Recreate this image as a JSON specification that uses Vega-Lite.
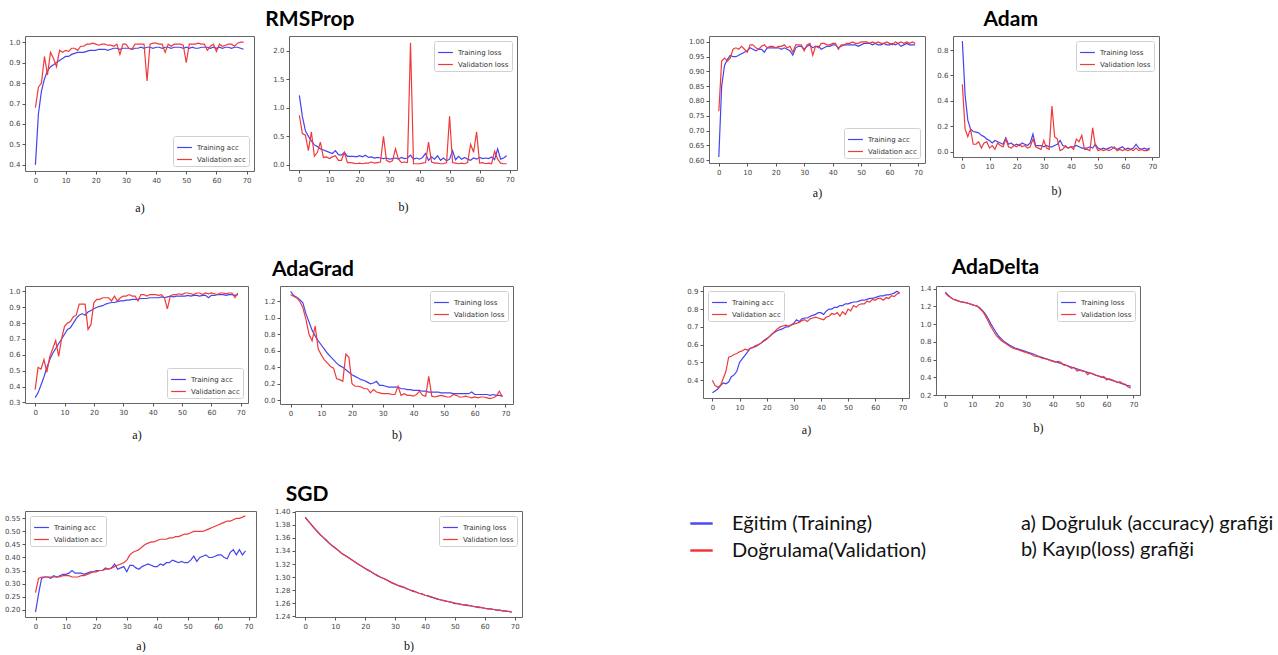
{
"$schema": "https://vega.github.io/schema/vega-lite/v6.json",
"padding": {"left": 3, "top": 8, "right": 0, "bottom": 0},
"background": "white",
"config": {
 "view": {"stroke": "#666", "strokeWidth": 1},
 "axis": {"grid": false, "domain": false, "labelFlush": false, "labelOverlap": false, "tickSize": 3, "tickColor": "#555", "labelFont": "DejaVu Sans", "labelFontSize": 7, "labelColor": "#444", "labelPadding": 2, "titleFont": "Liberation Serif", "titleFontSize": 12, "titleFontWeight": "normal", "titleColor": "#111"},
 "legend": {"labelFont": "DejaVu Sans", "labelFontSize": 7, "labelColor": "#333", "symbolType": "stroke", "symbolStrokeWidth": 1.5, "symbolSize": 220, "padding": 3, "rowPadding": 0, "offset": 5, "strokeColor": "#d0d0d0", "fillColor": "#ffffff", "cornerRadius": 2, "labelLimit": 300},
 "title": {"font": "Lato", "fontSize": 21, "fontWeight": "bold", "color": "#000", "anchor": "middle", "offset": 6},
 "line": {"strokeWidth": 1.2}
},
"datasets": {
"rmsprop": [
{"epoch":0,"train_acc":0.40,"val_acc":0.68,"train_loss":1.22,"val_loss":0.87},
{"epoch":1,"train_acc":0.65,"val_acc":0.78,"train_loss":0.85,"val_loss":0.55},
{"epoch":2,"train_acc":0.76,"val_acc":0.80,"train_loss":0.60,"val_loss":0.52},
{"epoch":3,"train_acc":0.82,"val_acc":0.93,"train_loss":0.50,"val_loss":0.25},
{"epoch":4,"train_acc":0.86,"val_acc":0.84,"train_loss":0.42,"val_loss":0.58},
{"epoch":5,"train_acc":0.88,"val_acc":0.95,"train_loss":0.35,"val_loss":0.15},
{"epoch":6,"train_acc":0.89,"val_acc":0.92,"train_loss":0.32,"val_loss":0.22},
{"epoch":7,"train_acc":0.90,"val_acc":0.88,"train_loss":0.28,"val_loss":0.40},
{"epoch":8,"train_acc":0.91,"val_acc":0.96,"train_loss":0.26,"val_loss":0.13},
{"epoch":9,"train_acc":0.92,"val_acc":0.95,"train_loss":0.24,"val_loss":0.14},
{"epoch":10,"train_acc":0.93,"val_acc":0.96,"train_loss":0.22,"val_loss":0.11},
{"epoch":11,"train_acc":0.93,"val_acc":0.955,"train_loss":0.20,"val_loss":0.14},
{"epoch":12,"train_acc":0.94,"val_acc":0.97,"train_loss":0.25,"val_loss":0.16},
{"epoch":13,"train_acc":0.945,"val_acc":0.97,"train_loss":0.18,"val_loss":0.08},
{"epoch":14,"train_acc":0.95,"val_acc":0.96,"train_loss":0.17,"val_loss":0.08},
{"epoch":15,"train_acc":0.95,"val_acc":0.98,"train_loss":0.22,"val_loss":0.22},
{"epoch":16,"train_acc":0.95,"val_acc":0.98,"train_loss":0.15,"val_loss":0.04},
{"epoch":17,"train_acc":0.955,"val_acc":0.99,"train_loss":0.15,"val_loss":0.04},
{"epoch":18,"train_acc":0.96,"val_acc":0.99,"train_loss":0.15,"val_loss":0.03},
{"epoch":19,"train_acc":0.96,"val_acc":0.995,"train_loss":0.14,"val_loss":0.02},
{"epoch":20,"train_acc":0.96,"val_acc":0.99,"train_loss":0.16,"val_loss":0.03},
{"epoch":21,"train_acc":0.965,"val_acc":0.985,"train_loss":0.14,"val_loss":0.02},
{"epoch":22,"train_acc":0.965,"val_acc":0.99,"train_loss":0.17,"val_loss":0.03},
{"epoch":23,"train_acc":0.965,"val_acc":0.99,"train_loss":0.13,"val_loss":0.03},
{"epoch":24,"train_acc":0.96,"val_acc":0.985,"train_loss":0.14,"val_loss":0.05},
{"epoch":25,"train_acc":0.965,"val_acc":0.985,"train_loss":0.12,"val_loss":0.03},
{"epoch":26,"train_acc":0.97,"val_acc":0.98,"train_loss":0.13,"val_loss":0.04},
{"epoch":27,"train_acc":0.97,"val_acc":0.99,"train_loss":0.12,"val_loss":0.05},
{"epoch":28,"train_acc":0.965,"val_acc":0.94,"train_loss":0.11,"val_loss":0.50},
{"epoch":29,"train_acc":0.97,"val_acc":0.99,"train_loss":0.12,"val_loss":0.08},
{"epoch":30,"train_acc":0.97,"val_acc":0.99,"train_loss":0.10,"val_loss":0.05},
{"epoch":31,"train_acc":0.97,"val_acc":0.97,"train_loss":0.11,"val_loss":0.07},
{"epoch":32,"train_acc":0.965,"val_acc":0.965,"train_loss":0.12,"val_loss":0.28},
{"epoch":33,"train_acc":0.97,"val_acc":0.99,"train_loss":0.10,"val_loss":0.10},
{"epoch":34,"train_acc":0.97,"val_acc":0.99,"train_loss":0.13,"val_loss":0.04},
{"epoch":35,"train_acc":0.975,"val_acc":0.99,"train_loss":0.11,"val_loss":0.05},
{"epoch":36,"train_acc":0.97,"val_acc":0.99,"train_loss":0.12,"val_loss":0.04},
{"epoch":37,"train_acc":0.975,"val_acc":0.81,"train_loss":0.17,"val_loss":2.14},
{"epoch":38,"train_acc":0.975,"val_acc":0.99,"train_loss":0.10,"val_loss":0.02},
{"epoch":39,"train_acc":0.97,"val_acc":0.995,"train_loss":0.12,"val_loss":0.02},
{"epoch":40,"train_acc":0.975,"val_acc":0.995,"train_loss":0.10,"val_loss":0.02},
{"epoch":41,"train_acc":0.975,"val_acc":0.99,"train_loss":0.13,"val_loss":0.03},
{"epoch":42,"train_acc":0.97,"val_acc":0.99,"train_loss":0.20,"val_loss":0.04},
{"epoch":43,"train_acc":0.975,"val_acc":0.95,"train_loss":0.08,"val_loss":0.40},
{"epoch":44,"train_acc":0.975,"val_acc":0.99,"train_loss":0.14,"val_loss":0.05},
{"epoch":45,"train_acc":0.97,"val_acc":0.98,"train_loss":0.10,"val_loss":0.03},
{"epoch":46,"train_acc":0.975,"val_acc":0.99,"train_loss":0.16,"val_loss":0.03},
{"epoch":47,"train_acc":0.975,"val_acc":0.99,"train_loss":0.08,"val_loss":0.02},
{"epoch":48,"train_acc":0.975,"val_acc":0.99,"train_loss":0.12,"val_loss":0.02},
{"epoch":49,"train_acc":0.97,"val_acc":0.985,"train_loss":0.07,"val_loss":0.04},
{"epoch":50,"train_acc":0.975,"val_acc":0.90,"train_loss":0.10,"val_loss":0.85},
{"epoch":51,"train_acc":0.97,"val_acc":0.99,"train_loss":0.25,"val_loss":0.04},
{"epoch":52,"train_acc":0.975,"val_acc":0.99,"train_loss":0.09,"val_loss":0.03},
{"epoch":53,"train_acc":0.97,"val_acc":0.99,"train_loss":0.15,"val_loss":0.02},
{"epoch":54,"train_acc":0.97,"val_acc":0.995,"train_loss":0.10,"val_loss":0.03},
{"epoch":55,"train_acc":0.975,"val_acc":0.99,"train_loss":0.13,"val_loss":0.02},
{"epoch":56,"train_acc":0.975,"val_acc":0.99,"train_loss":0.10,"val_loss":0.04},
{"epoch":57,"train_acc":0.975,"val_acc":0.96,"train_loss":0.08,"val_loss":0.36},
{"epoch":58,"train_acc":0.97,"val_acc":0.98,"train_loss":0.12,"val_loss":0.22},
{"epoch":59,"train_acc":0.975,"val_acc":0.99,"train_loss":0.10,"val_loss":0.58},
{"epoch":60,"train_acc":0.97,"val_acc":0.955,"train_loss":0.13,"val_loss":0.03},
{"epoch":61,"train_acc":0.975,"val_acc":0.99,"train_loss":0.11,"val_loss":0.04},
{"epoch":62,"train_acc":0.97,"val_acc":0.98,"train_loss":0.12,"val_loss":0.02},
{"epoch":63,"train_acc":0.975,"val_acc":0.985,"train_loss":0.11,"val_loss":0.03},
{"epoch":64,"train_acc":0.975,"val_acc":0.99,"train_loss":0.14,"val_loss":0.02},
{"epoch":65,"train_acc":0.97,"val_acc":0.99,"train_loss":0.09,"val_loss":0.24},
{"epoch":66,"train_acc":0.975,"val_acc":0.98,"train_loss":0.28,"val_loss":0.10},
{"epoch":67,"train_acc":0.975,"val_acc":0.995,"train_loss":0.10,"val_loss":0.03},
{"epoch":68,"train_acc":0.97,"val_acc":1.0,"train_loss":0.12,"val_loss":0.02},
{"epoch":69,"train_acc":0.965,"val_acc":1.0,"train_loss":0.16,"val_loss":0.02}
],
"adam": [
{"epoch":0,"train_acc":0.61,"val_acc":0.765,"train_loss":0.87,"val_loss":0.53},
{"epoch":1,"train_acc":0.85,"val_acc":0.935,"train_loss":0.45,"val_loss":0.18},
{"epoch":2,"train_acc":0.92,"val_acc":0.945,"train_loss":0.25,"val_loss":0.12},
{"epoch":3,"train_acc":0.94,"val_acc":0.935,"train_loss":0.18,"val_loss":0.18},
{"epoch":4,"train_acc":0.955,"val_acc":0.945,"train_loss":0.16,"val_loss":0.06},
{"epoch":5,"train_acc":0.95,"val_acc":0.975,"train_loss":0.155,"val_loss":0.06},
{"epoch":6,"train_acc":0.95,"val_acc":0.98,"train_loss":0.15,"val_loss":0.08},
{"epoch":7,"train_acc":0.955,"val_acc":0.975,"train_loss":0.13,"val_loss":0.03},
{"epoch":8,"train_acc":0.96,"val_acc":0.985,"train_loss":0.12,"val_loss":0.07},
{"epoch":9,"train_acc":0.965,"val_acc":0.975,"train_loss":0.10,"val_loss":0.08},
{"epoch":10,"train_acc":0.97,"val_acc":0.965,"train_loss":0.09,"val_loss":0.03},
{"epoch":11,"train_acc":0.98,"val_acc":0.99,"train_loss":0.07,"val_loss":0.05},
{"epoch":12,"train_acc":0.975,"val_acc":0.99,"train_loss":0.09,"val_loss":0.02},
{"epoch":13,"train_acc":0.97,"val_acc":0.98,"train_loss":0.08,"val_loss":0.07},
{"epoch":14,"train_acc":0.975,"val_acc":0.975,"train_loss":0.07,"val_loss":0.05},
{"epoch":15,"train_acc":0.975,"val_acc":0.985,"train_loss":0.06,"val_loss":0.04},
{"epoch":16,"train_acc":0.965,"val_acc":0.99,"train_loss":0.11,"val_loss":0.10},
{"epoch":17,"train_acc":0.98,"val_acc":0.98,"train_loss":0.06,"val_loss":0.04},
{"epoch":18,"train_acc":0.98,"val_acc":0.985,"train_loss":0.07,"val_loss":0.03},
{"epoch":19,"train_acc":0.98,"val_acc":0.985,"train_loss":0.05,"val_loss":0.05},
{"epoch":20,"train_acc":0.98,"val_acc":0.98,"train_loss":0.06,"val_loss":0.04},
{"epoch":21,"train_acc":0.98,"val_acc":0.985,"train_loss":0.05,"val_loss":0.06},
{"epoch":22,"train_acc":0.975,"val_acc":0.985,"train_loss":0.07,"val_loss":0.04},
{"epoch":23,"train_acc":0.98,"val_acc":0.99,"train_loss":0.06,"val_loss":0.05},
{"epoch":24,"train_acc":0.975,"val_acc":0.98,"train_loss":0.05,"val_loss":0.03},
{"epoch":25,"train_acc":0.97,"val_acc":0.985,"train_loss":0.07,"val_loss":0.04},
{"epoch":26,"train_acc":0.955,"val_acc":0.965,"train_loss":0.14,"val_loss":0.10},
{"epoch":27,"train_acc":0.98,"val_acc":0.99,"train_loss":0.05,"val_loss":0.04},
{"epoch":28,"train_acc":0.985,"val_acc":0.99,"train_loss":0.05,"val_loss":0.03},
{"epoch":29,"train_acc":0.985,"val_acc":0.99,"train_loss":0.05,"val_loss":0.02},
{"epoch":30,"train_acc":0.975,"val_acc":0.97,"train_loss":0.04,"val_loss":0.09},
{"epoch":31,"train_acc":0.985,"val_acc":0.99,"train_loss":0.05,"val_loss":0.03},
{"epoch":32,"train_acc":0.99,"val_acc":0.995,"train_loss":0.04,"val_loss":0.02},
{"epoch":33,"train_acc":0.98,"val_acc":0.955,"train_loss":0.04,"val_loss":0.36},
{"epoch":34,"train_acc":0.985,"val_acc":0.985,"train_loss":0.05,"val_loss":0.12},
{"epoch":35,"train_acc":0.985,"val_acc":0.98,"train_loss":0.06,"val_loss":0.10},
{"epoch":36,"train_acc":0.975,"val_acc":0.995,"train_loss":0.09,"val_loss":0.01},
{"epoch":37,"train_acc":0.98,"val_acc":0.995,"train_loss":0.05,"val_loss":0.02},
{"epoch":38,"train_acc":0.985,"val_acc":0.99,"train_loss":0.04,"val_loss":0.05},
{"epoch":39,"train_acc":0.985,"val_acc":0.99,"train_loss":0.03,"val_loss":0.03},
{"epoch":40,"train_acc":0.99,"val_acc":0.995,"train_loss":0.04,"val_loss":0.04},
{"epoch":41,"train_acc":0.99,"val_acc":0.995,"train_loss":0.04,"val_loss":0.02},
{"epoch":42,"train_acc":0.98,"val_acc":0.975,"train_loss":0.05,"val_loss":0.10},
{"epoch":43,"train_acc":0.985,"val_acc":0.99,"train_loss":0.04,"val_loss":0.08},
{"epoch":44,"train_acc":0.99,"val_acc":0.99,"train_loss":0.03,"val_loss":0.13},
{"epoch":45,"train_acc":0.99,"val_acc":0.995,"train_loss":0.03,"val_loss":0.02},
{"epoch":46,"train_acc":0.99,"val_acc":0.995,"train_loss":0.03,"val_loss":0.02},
{"epoch":47,"train_acc":0.99,"val_acc":1.0,"train_loss":0.04,"val_loss":0.01},
{"epoch":48,"train_acc":0.99,"val_acc":0.995,"train_loss":0.03,"val_loss":0.19},
{"epoch":49,"train_acc":0.985,"val_acc":0.995,"train_loss":0.06,"val_loss":0.05},
{"epoch":50,"train_acc":0.99,"val_acc":1.0,"train_loss":0.03,"val_loss":0.01},
{"epoch":51,"train_acc":0.995,"val_acc":1.0,"train_loss":0.02,"val_loss":0.02},
{"epoch":52,"train_acc":0.995,"val_acc":1.0,"train_loss":0.03,"val_loss":0.01},
{"epoch":53,"train_acc":0.995,"val_acc":0.995,"train_loss":0.02,"val_loss":0.02},
{"epoch":54,"train_acc":0.99,"val_acc":1.0,"train_loss":0.03,"val_loss":0.01},
{"epoch":55,"train_acc":0.995,"val_acc":0.995,"train_loss":0.04,"val_loss":0.02},
{"epoch":56,"train_acc":0.99,"val_acc":1.0,"train_loss":0.03,"val_loss":0.04},
{"epoch":57,"train_acc":0.99,"val_acc":0.995,"train_loss":0.02,"val_loss":0.01},
{"epoch":58,"train_acc":0.995,"val_acc":0.995,"train_loss":0.03,"val_loss":0.02},
{"epoch":59,"train_acc":0.99,"val_acc":1.0,"train_loss":0.04,"val_loss":0.01},
{"epoch":60,"train_acc":0.99,"val_acc":0.995,"train_loss":0.02,"val_loss":0.02},
{"epoch":61,"train_acc":0.995,"val_acc":0.99,"train_loss":0.03,"val_loss":0.01},
{"epoch":62,"train_acc":0.99,"val_acc":1.0,"train_loss":0.02,"val_loss":0.02},
{"epoch":63,"train_acc":0.995,"val_acc":0.995,"train_loss":0.03,"val_loss":0.01},
{"epoch":64,"train_acc":0.985,"val_acc":1.0,"train_loss":0.06,"val_loss":0.03},
{"epoch":65,"train_acc":0.99,"val_acc":0.995,"train_loss":0.03,"val_loss":0.01},
{"epoch":66,"train_acc":0.995,"val_acc":1.0,"train_loss":0.02,"val_loss":0.02},
{"epoch":67,"train_acc":0.99,"val_acc":0.995,"train_loss":0.03,"val_loss":0.01},
{"epoch":68,"train_acc":0.99,"val_acc":1.0,"train_loss":0.02,"val_loss":0.01},
{"epoch":69,"train_acc":0.99,"val_acc":0.995,"train_loss":0.03,"val_loss":0.02}
],
"adagrad": [
{"epoch":0,"train_acc":0.33,"val_acc":0.38,"train_loss":1.32,"val_loss":1.28},
{"epoch":1,"train_acc":0.36,"val_acc":0.52,"train_loss":1.27,"val_loss":1.26},
{"epoch":2,"train_acc":0.41,"val_acc":0.51,"train_loss":1.25,"val_loss":1.24},
{"epoch":3,"train_acc":0.46,"val_acc":0.57,"train_loss":1.22,"val_loss":1.20},
{"epoch":4,"train_acc":0.52,"val_acc":0.49,"train_loss":1.18,"val_loss":1.12},
{"epoch":5,"train_acc":0.57,"val_acc":0.59,"train_loss":1.05,"val_loss":0.98},
{"epoch":6,"train_acc":0.61,"val_acc":0.64,"train_loss":0.95,"val_loss":0.80},
{"epoch":7,"train_acc":0.64,"val_acc":0.69,"train_loss":0.85,"val_loss":0.72},
{"epoch":8,"train_acc":0.67,"val_acc":0.59,"train_loss":0.78,"val_loss":0.90},
{"epoch":9,"train_acc":0.70,"val_acc":0.70,"train_loss":0.72,"val_loss":0.62},
{"epoch":10,"train_acc":0.73,"val_acc":0.78,"train_loss":0.67,"val_loss":0.55},
{"epoch":11,"train_acc":0.76,"val_acc":0.80,"train_loss":0.62,"val_loss":0.49},
{"epoch":12,"train_acc":0.77,"val_acc":0.81,"train_loss":0.57,"val_loss":0.45},
{"epoch":13,"train_acc":0.80,"val_acc":0.84,"train_loss":0.53,"val_loss":0.41},
{"epoch":14,"train_acc":0.83,"val_acc":0.85,"train_loss":0.49,"val_loss":0.39},
{"epoch":15,"train_acc":0.85,"val_acc":0.92,"train_loss":0.45,"val_loss":0.26},
{"epoch":16,"train_acc":0.86,"val_acc":0.92,"train_loss":0.42,"val_loss":0.25},
{"epoch":17,"train_acc":0.85,"val_acc":0.92,"train_loss":0.40,"val_loss":0.23},
{"epoch":18,"train_acc":0.87,"val_acc":0.76,"train_loss":0.37,"val_loss":0.56},
{"epoch":19,"train_acc":0.88,"val_acc":0.79,"train_loss":0.34,"val_loss":0.52},
{"epoch":20,"train_acc":0.89,"val_acc":0.93,"train_loss":0.31,"val_loss":0.20},
{"epoch":21,"train_acc":0.90,"val_acc":0.95,"train_loss":0.29,"val_loss":0.17},
{"epoch":22,"train_acc":0.905,"val_acc":0.95,"train_loss":0.27,"val_loss":0.17},
{"epoch":23,"train_acc":0.91,"val_acc":0.96,"train_loss":0.25,"val_loss":0.16},
{"epoch":24,"train_acc":0.92,"val_acc":0.96,"train_loss":0.24,"val_loss":0.14},
{"epoch":25,"train_acc":0.925,"val_acc":0.96,"train_loss":0.22,"val_loss":0.14},
{"epoch":26,"train_acc":0.93,"val_acc":0.94,"train_loss":0.20,"val_loss":0.09},
{"epoch":27,"train_acc":0.93,"val_acc":0.97,"train_loss":0.21,"val_loss":0.13},
{"epoch":28,"train_acc":0.935,"val_acc":0.94,"train_loss":0.23,"val_loss":0.10},
{"epoch":29,"train_acc":0.94,"val_acc":0.96,"train_loss":0.18,"val_loss":0.09},
{"epoch":30,"train_acc":0.94,"val_acc":0.97,"train_loss":0.18,"val_loss":0.08},
{"epoch":31,"train_acc":0.945,"val_acc":0.97,"train_loss":0.17,"val_loss":0.08},
{"epoch":32,"train_acc":0.945,"val_acc":0.98,"train_loss":0.16,"val_loss":0.08},
{"epoch":33,"train_acc":0.95,"val_acc":0.97,"train_loss":0.16,"val_loss":0.07},
{"epoch":34,"train_acc":0.95,"val_acc":0.97,"train_loss":0.16,"val_loss":0.07},
{"epoch":35,"train_acc":0.95,"val_acc":0.94,"train_loss":0.16,"val_loss":0.17},
{"epoch":36,"train_acc":0.955,"val_acc":0.98,"train_loss":0.14,"val_loss":0.06},
{"epoch":37,"train_acc":0.955,"val_acc":0.98,"train_loss":0.14,"val_loss":0.08},
{"epoch":38,"train_acc":0.955,"val_acc":0.97,"train_loss":0.13,"val_loss":0.06},
{"epoch":39,"train_acc":0.96,"val_acc":0.98,"train_loss":0.13,"val_loss":0.06},
{"epoch":40,"train_acc":0.96,"val_acc":0.98,"train_loss":0.12,"val_loss":0.05},
{"epoch":41,"train_acc":0.96,"val_acc":0.98,"train_loss":0.12,"val_loss":0.07},
{"epoch":42,"train_acc":0.96,"val_acc":0.975,"train_loss":0.12,"val_loss":0.11},
{"epoch":43,"train_acc":0.965,"val_acc":0.98,"train_loss":0.11,"val_loss":0.06},
{"epoch":44,"train_acc":0.96,"val_acc":0.96,"train_loss":0.11,"val_loss":0.05},
{"epoch":45,"train_acc":0.965,"val_acc":0.89,"train_loss":0.10,"val_loss":0.29},
{"epoch":46,"train_acc":0.97,"val_acc":0.97,"train_loss":0.10,"val_loss":0.05},
{"epoch":47,"train_acc":0.965,"val_acc":0.98,"train_loss":0.10,"val_loss":0.04},
{"epoch":48,"train_acc":0.97,"val_acc":0.98,"train_loss":0.10,"val_loss":0.05},
{"epoch":49,"train_acc":0.97,"val_acc":0.985,"train_loss":0.09,"val_loss":0.06},
{"epoch":50,"train_acc":0.97,"val_acc":0.98,"train_loss":0.09,"val_loss":0.05},
{"epoch":51,"train_acc":0.97,"val_acc":0.99,"train_loss":0.09,"val_loss":0.04},
{"epoch":52,"train_acc":0.975,"val_acc":0.99,"train_loss":0.09,"val_loss":0.04},
{"epoch":53,"train_acc":0.97,"val_acc":0.985,"train_loss":0.08,"val_loss":0.07},
{"epoch":54,"train_acc":0.975,"val_acc":0.98,"train_loss":0.08,"val_loss":0.06},
{"epoch":55,"train_acc":0.975,"val_acc":0.99,"train_loss":0.08,"val_loss":0.04},
{"epoch":56,"train_acc":0.97,"val_acc":0.99,"train_loss":0.08,"val_loss":0.04},
{"epoch":57,"train_acc":0.975,"val_acc":0.98,"train_loss":0.08,"val_loss":0.05},
{"epoch":58,"train_acc":0.975,"val_acc":0.99,"train_loss":0.08,"val_loss":0.04},
{"epoch":59,"train_acc":0.96,"val_acc":0.985,"train_loss":0.10,"val_loss":0.03},
{"epoch":60,"train_acc":0.975,"val_acc":0.99,"train_loss":0.07,"val_loss":0.04},
{"epoch":61,"train_acc":0.975,"val_acc":0.985,"train_loss":0.07,"val_loss":0.03},
{"epoch":62,"train_acc":0.98,"val_acc":0.98,"train_loss":0.07,"val_loss":0.04},
{"epoch":63,"train_acc":0.98,"val_acc":0.99,"train_loss":0.07,"val_loss":0.04},
{"epoch":64,"train_acc":0.98,"val_acc":0.99,"train_loss":0.07,"val_loss":0.03},
{"epoch":65,"train_acc":0.975,"val_acc":0.985,"train_loss":0.06,"val_loss":0.02},
{"epoch":66,"train_acc":0.98,"val_acc":0.99,"train_loss":0.07,"val_loss":0.03},
{"epoch":67,"train_acc":0.98,"val_acc":0.99,"train_loss":0.06,"val_loss":0.05},
{"epoch":68,"train_acc":0.975,"val_acc":0.96,"train_loss":0.06,"val_loss":0.11},
{"epoch":69,"train_acc":0.98,"val_acc":0.99,"train_loss":0.05,"val_loss":0.04}
],
"adadelta": [
{"epoch":0,"train_acc":0.33,"val_acc":0.40,"train_loss":1.36,"val_loss":1.35},
{"epoch":1,"train_acc":0.34,"val_acc":0.37,"train_loss":1.33,"val_loss":1.32},
{"epoch":2,"train_acc":0.35,"val_acc":0.36,"train_loss":1.30,"val_loss":1.30},
{"epoch":3,"train_acc":0.37,"val_acc":0.37,"train_loss":1.28,"val_loss":1.28},
{"epoch":4,"train_acc":0.385,"val_acc":0.41,"train_loss":1.27,"val_loss":1.27},
{"epoch":5,"train_acc":0.38,"val_acc":0.45,"train_loss":1.26,"val_loss":1.26},
{"epoch":6,"train_acc":0.39,"val_acc":0.53,"train_loss":1.25,"val_loss":1.25},
{"epoch":7,"train_acc":0.42,"val_acc":0.535,"train_loss":1.245,"val_loss":1.245},
{"epoch":8,"train_acc":0.43,"val_acc":0.545,"train_loss":1.24,"val_loss":1.24},
{"epoch":9,"train_acc":0.45,"val_acc":0.55,"train_loss":1.23,"val_loss":1.23},
{"epoch":10,"train_acc":0.50,"val_acc":0.56,"train_loss":1.22,"val_loss":1.22},
{"epoch":11,"train_acc":0.52,"val_acc":0.565,"train_loss":1.21,"val_loss":1.21},
{"epoch":12,"train_acc":0.54,"val_acc":0.575,"train_loss":1.20,"val_loss":1.20},
{"epoch":13,"train_acc":0.56,"val_acc":0.57,"train_loss":1.18,"val_loss":1.17},
{"epoch":14,"train_acc":0.58,"val_acc":0.58,"train_loss":1.15,"val_loss":1.14},
{"epoch":15,"train_acc":0.585,"val_acc":0.585,"train_loss":1.11,"val_loss":1.09},
{"epoch":16,"train_acc":0.59,"val_acc":0.595,"train_loss":1.06,"val_loss":1.03},
{"epoch":17,"train_acc":0.60,"val_acc":0.60,"train_loss":1.00,"val_loss":0.97},
{"epoch":18,"train_acc":0.61,"val_acc":0.61,"train_loss":0.95,"val_loss":0.92},
{"epoch":19,"train_acc":0.62,"val_acc":0.625,"train_loss":0.90,"val_loss":0.87},
{"epoch":20,"train_acc":0.63,"val_acc":0.635,"train_loss":0.86,"val_loss":0.84},
{"epoch":21,"train_acc":0.645,"val_acc":0.645,"train_loss":0.83,"val_loss":0.81},
{"epoch":22,"train_acc":0.66,"val_acc":0.66,"train_loss":0.80,"val_loss":0.79},
{"epoch":23,"train_acc":0.67,"val_acc":0.675,"train_loss":0.78,"val_loss":0.77},
{"epoch":24,"train_acc":0.68,"val_acc":0.69,"train_loss":0.76,"val_loss":0.75},
{"epoch":25,"train_acc":0.685,"val_acc":0.70,"train_loss":0.745,"val_loss":0.73},
{"epoch":26,"train_acc":0.69,"val_acc":0.705,"train_loss":0.73,"val_loss":0.72},
{"epoch":27,"train_acc":0.70,"val_acc":0.71,"train_loss":0.72,"val_loss":0.71},
{"epoch":28,"train_acc":0.70,"val_acc":0.705,"train_loss":0.71,"val_loss":0.70},
{"epoch":29,"train_acc":0.71,"val_acc":0.71,"train_loss":0.70,"val_loss":0.69},
{"epoch":30,"train_acc":0.72,"val_acc":0.715,"train_loss":0.69,"val_loss":0.68},
{"epoch":31,"train_acc":0.74,"val_acc":0.72,"train_loss":0.68,"val_loss":0.67},
{"epoch":32,"train_acc":0.73,"val_acc":0.725,"train_loss":0.67,"val_loss":0.66},
{"epoch":33,"train_acc":0.745,"val_acc":0.735,"train_loss":0.66,"val_loss":0.64},
{"epoch":34,"train_acc":0.75,"val_acc":0.74,"train_loss":0.645,"val_loss":0.635},
{"epoch":35,"train_acc":0.75,"val_acc":0.73,"train_loss":0.635,"val_loss":0.63},
{"epoch":36,"train_acc":0.76,"val_acc":0.745,"train_loss":0.625,"val_loss":0.615},
{"epoch":37,"train_acc":0.765,"val_acc":0.75,"train_loss":0.615,"val_loss":0.61},
{"epoch":38,"train_acc":0.77,"val_acc":0.755,"train_loss":0.605,"val_loss":0.60},
{"epoch":39,"train_acc":0.78,"val_acc":0.75,"train_loss":0.595,"val_loss":0.59},
{"epoch":40,"train_acc":0.78,"val_acc":0.745,"train_loss":0.585,"val_loss":0.58},
{"epoch":41,"train_acc":0.77,"val_acc":0.74,"train_loss":0.575,"val_loss":0.57},
{"epoch":42,"train_acc":0.79,"val_acc":0.755,"train_loss":0.565,"val_loss":0.58},
{"epoch":43,"train_acc":0.80,"val_acc":0.76,"train_loss":0.555,"val_loss":0.57},
{"epoch":44,"train_acc":0.80,"val_acc":0.775,"train_loss":0.545,"val_loss":0.54},
{"epoch":45,"train_acc":0.81,"val_acc":0.77,"train_loss":0.535,"val_loss":0.535},
{"epoch":46,"train_acc":0.81,"val_acc":0.78,"train_loss":0.525,"val_loss":0.52},
{"epoch":47,"train_acc":0.82,"val_acc":0.76,"train_loss":0.515,"val_loss":0.50},
{"epoch":48,"train_acc":0.82,"val_acc":0.785,"train_loss":0.505,"val_loss":0.51},
{"epoch":49,"train_acc":0.83,"val_acc":0.77,"train_loss":0.495,"val_loss":0.47},
{"epoch":50,"train_acc":0.83,"val_acc":0.80,"train_loss":0.485,"val_loss":0.48},
{"epoch":51,"train_acc":0.835,"val_acc":0.79,"train_loss":0.475,"val_loss":0.47},
{"epoch":52,"train_acc":0.84,"val_acc":0.82,"train_loss":0.465,"val_loss":0.465},
{"epoch":53,"train_acc":0.84,"val_acc":0.81,"train_loss":0.455,"val_loss":0.43},
{"epoch":54,"train_acc":0.845,"val_acc":0.825,"train_loss":0.445,"val_loss":0.45},
{"epoch":55,"train_acc":0.85,"val_acc":0.83,"train_loss":0.435,"val_loss":0.44},
{"epoch":56,"train_acc":0.85,"val_acc":0.83,"train_loss":0.425,"val_loss":0.42},
{"epoch":57,"train_acc":0.855,"val_acc":0.845,"train_loss":0.415,"val_loss":0.415},
{"epoch":58,"train_acc":0.86,"val_acc":0.84,"train_loss":0.405,"val_loss":0.40},
{"epoch":59,"train_acc":0.86,"val_acc":0.855,"train_loss":0.395,"val_loss":0.41},
{"epoch":60,"train_acc":0.865,"val_acc":0.85,"train_loss":0.385,"val_loss":0.37},
{"epoch":61,"train_acc":0.87,"val_acc":0.86,"train_loss":0.375,"val_loss":0.385},
{"epoch":62,"train_acc":0.875,"val_acc":0.86,"train_loss":0.365,"val_loss":0.37},
{"epoch":63,"train_acc":0.875,"val_acc":0.85,"train_loss":0.355,"val_loss":0.36},
{"epoch":64,"train_acc":0.88,"val_acc":0.865,"train_loss":0.345,"val_loss":0.34},
{"epoch":65,"train_acc":0.88,"val_acc":0.86,"train_loss":0.335,"val_loss":0.35},
{"epoch":66,"train_acc":0.885,"val_acc":0.875,"train_loss":0.325,"val_loss":0.33},
{"epoch":67,"train_acc":0.89,"val_acc":0.87,"train_loss":0.315,"val_loss":0.32},
{"epoch":68,"train_acc":0.90,"val_acc":0.885,"train_loss":0.305,"val_loss":0.29},
{"epoch":69,"train_acc":0.89,"val_acc":0.89,"train_loss":0.30,"val_loss":0.28}
],
"sgd": [
{"epoch":0,"train_acc":0.19,"val_acc":0.265,"train_loss":1.392,"val_loss":1.391},
{"epoch":1,"train_acc":0.26,"val_acc":0.32,"train_loss":1.386,"val_loss":1.386},
{"epoch":2,"train_acc":0.32,"val_acc":0.325,"train_loss":1.381,"val_loss":1.380},
{"epoch":3,"train_acc":0.325,"val_acc":0.325,"train_loss":1.375,"val_loss":1.375},
{"epoch":4,"train_acc":0.325,"val_acc":0.325,"train_loss":1.370,"val_loss":1.370},
{"epoch":5,"train_acc":0.32,"val_acc":0.325,"train_loss":1.365,"val_loss":1.365},
{"epoch":6,"train_acc":0.33,"val_acc":0.325,"train_loss":1.361,"val_loss":1.361},
{"epoch":7,"train_acc":0.325,"val_acc":0.325,"train_loss":1.357,"val_loss":1.356},
{"epoch":8,"train_acc":0.33,"val_acc":0.325,"train_loss":1.352,"val_loss":1.352},
{"epoch":9,"train_acc":0.335,"val_acc":0.33,"train_loss":1.348,"val_loss":1.348},
{"epoch":10,"train_acc":0.335,"val_acc":0.33,"train_loss":1.345,"val_loss":1.344},
{"epoch":11,"train_acc":0.34,"val_acc":0.33,"train_loss":1.341,"val_loss":1.341},
{"epoch":12,"train_acc":0.35,"val_acc":0.325,"train_loss":1.337,"val_loss":1.337},
{"epoch":13,"train_acc":0.34,"val_acc":0.325,"train_loss":1.334,"val_loss":1.334},
{"epoch":14,"train_acc":0.34,"val_acc":0.325,"train_loss":1.331,"val_loss":1.331},
{"epoch":15,"train_acc":0.34,"val_acc":0.33,"train_loss":1.328,"val_loss":1.328},
{"epoch":16,"train_acc":0.335,"val_acc":0.33,"train_loss":1.325,"val_loss":1.325},
{"epoch":17,"train_acc":0.34,"val_acc":0.335,"train_loss":1.322,"val_loss":1.322},
{"epoch":18,"train_acc":0.345,"val_acc":0.34,"train_loss":1.319,"val_loss":1.319},
{"epoch":19,"train_acc":0.345,"val_acc":0.345,"train_loss":1.316,"val_loss":1.316},
{"epoch":20,"train_acc":0.35,"val_acc":0.345,"train_loss":1.313,"val_loss":1.313},
{"epoch":21,"train_acc":0.35,"val_acc":0.35,"train_loss":1.310,"val_loss":1.311},
{"epoch":22,"train_acc":0.35,"val_acc":0.35,"train_loss":1.308,"val_loss":1.308},
{"epoch":23,"train_acc":0.36,"val_acc":0.355,"train_loss":1.305,"val_loss":1.305},
{"epoch":24,"train_acc":0.355,"val_acc":0.355,"train_loss":1.302,"val_loss":1.303},
{"epoch":25,"train_acc":0.36,"val_acc":0.36,"train_loss":1.300,"val_loss":1.300},
{"epoch":26,"train_acc":0.375,"val_acc":0.365,"train_loss":1.298,"val_loss":1.298},
{"epoch":27,"train_acc":0.355,"val_acc":0.37,"train_loss":1.296,"val_loss":1.296},
{"epoch":28,"train_acc":0.36,"val_acc":0.375,"train_loss":1.293,"val_loss":1.294},
{"epoch":29,"train_acc":0.365,"val_acc":0.38,"train_loss":1.291,"val_loss":1.291},
{"epoch":30,"train_acc":0.345,"val_acc":0.39,"train_loss":1.289,"val_loss":1.289},
{"epoch":31,"train_acc":0.37,"val_acc":0.41,"train_loss":1.287,"val_loss":1.287},
{"epoch":32,"train_acc":0.37,"val_acc":0.42,"train_loss":1.285,"val_loss":1.286},
{"epoch":33,"train_acc":0.36,"val_acc":0.425,"train_loss":1.284,"val_loss":1.284},
{"epoch":34,"train_acc":0.355,"val_acc":0.43,"train_loss":1.282,"val_loss":1.282},
{"epoch":35,"train_acc":0.365,"val_acc":0.44,"train_loss":1.280,"val_loss":1.280},
{"epoch":36,"train_acc":0.37,"val_acc":0.45,"train_loss":1.278,"val_loss":1.279},
{"epoch":37,"train_acc":0.375,"val_acc":0.455,"train_loss":1.277,"val_loss":1.277},
{"epoch":38,"train_acc":0.37,"val_acc":0.46,"train_loss":1.275,"val_loss":1.275},
{"epoch":39,"train_acc":0.365,"val_acc":0.46,"train_loss":1.274,"val_loss":1.274},
{"epoch":40,"train_acc":0.365,"val_acc":0.465,"train_loss":1.272,"val_loss":1.272},
{"epoch":41,"train_acc":0.375,"val_acc":0.47,"train_loss":1.271,"val_loss":1.271},
{"epoch":42,"train_acc":0.37,"val_acc":0.47,"train_loss":1.269,"val_loss":1.270},
{"epoch":43,"train_acc":0.38,"val_acc":0.47,"train_loss":1.268,"val_loss":1.268},
{"epoch":44,"train_acc":0.38,"val_acc":0.475,"train_loss":1.266,"val_loss":1.267},
{"epoch":45,"train_acc":0.39,"val_acc":0.475,"train_loss":1.265,"val_loss":1.265},
{"epoch":46,"train_acc":0.385,"val_acc":0.48,"train_loss":1.264,"val_loss":1.264},
{"epoch":47,"train_acc":0.38,"val_acc":0.48,"train_loss":1.263,"val_loss":1.263},
{"epoch":48,"train_acc":0.385,"val_acc":0.485,"train_loss":1.262,"val_loss":1.262},
{"epoch":49,"train_acc":0.38,"val_acc":0.49,"train_loss":1.261,"val_loss":1.261},
{"epoch":50,"train_acc":0.38,"val_acc":0.49,"train_loss":1.259,"val_loss":1.260},
{"epoch":51,"train_acc":0.39,"val_acc":0.495,"train_loss":1.259,"val_loss":1.259},
{"epoch":52,"train_acc":0.405,"val_acc":0.50,"train_loss":1.258,"val_loss":1.258},
{"epoch":53,"train_acc":0.385,"val_acc":0.50,"train_loss":1.257,"val_loss":1.257},
{"epoch":54,"train_acc":0.40,"val_acc":0.50,"train_loss":1.257,"val_loss":1.256},
{"epoch":55,"train_acc":0.405,"val_acc":0.50,"train_loss":1.256,"val_loss":1.256},
{"epoch":56,"train_acc":0.41,"val_acc":0.505,"train_loss":1.255,"val_loss":1.255},
{"epoch":57,"train_acc":0.40,"val_acc":0.51,"train_loss":1.254,"val_loss":1.254},
{"epoch":58,"train_acc":0.40,"val_acc":0.515,"train_loss":1.254,"val_loss":1.253},
{"epoch":59,"train_acc":0.405,"val_acc":0.52,"train_loss":1.253,"val_loss":1.253},
{"epoch":60,"train_acc":0.41,"val_acc":0.525,"train_loss":1.252,"val_loss":1.252},
{"epoch":61,"train_acc":0.41,"val_acc":0.53,"train_loss":1.251,"val_loss":1.251},
{"epoch":62,"train_acc":0.40,"val_acc":0.535,"train_loss":1.251,"val_loss":1.251},
{"epoch":63,"train_acc":0.395,"val_acc":0.54,"train_loss":1.250,"val_loss":1.250},
{"epoch":64,"train_acc":0.42,"val_acc":0.54,"train_loss":1.249,"val_loss":1.249},
{"epoch":65,"train_acc":0.43,"val_acc":0.545,"train_loss":1.249,"val_loss":1.249},
{"epoch":66,"train_acc":0.41,"val_acc":0.55,"train_loss":1.248,"val_loss":1.248},
{"epoch":67,"train_acc":0.43,"val_acc":0.55,"train_loss":1.248,"val_loss":1.247},
{"epoch":68,"train_acc":0.41,"val_acc":0.555,"train_loss":1.247,"val_loss":1.247},
{"epoch":69,"train_acc":0.425,"val_acc":0.56,"train_loss":1.246,"val_loss":1.246}
]
},
"spacing": 43,
"resolve": {"scale": {"color": "independent"}},
"vconcat": [
{"spacing": 169, "resolve": {"scale": {"color": "independent"}}, "hconcat": [
 {"title": {"text": "RMSProp", "dx": 47}, "spacing": 17, "resolve": {"scale": {"color": "independent"}}, "hconcat": [
  {"width": 229, "height": 135, "data": {"name": "rmsprop"},
   "transform": [{"fold": ["train_acc", "val_acc"], "as": ["series", "value"]}],
   "mark": {"type": "line"},
   "encoding": {
    "x": {"field": "epoch", "type": "quantitative", "scale": {"domain": [-3.45, 72.45], "nice": false, "zero": false}, "axis": {"values": [0,10,20,30,40,50,60,70], "title": "a)", "titlePadding": 19}},
    "y": {"field": "value", "type": "quantitative", "scale": {"domain": [0.37, 1.03], "nice": false, "zero": false}, "axis": {"values": [0.4,0.5,0.6,0.7,0.8,0.9,1.0], "format": ".1f", "title": null}},
    "color": {"field": "series", "type": "nominal", "scale": {"domain": ["train_acc", "val_acc"], "range": ["#4444f0", "#f03a3a"]}, "legend": {"orient": "bottom-right", "title": null, "labelExpr": "datum.value == 'train_acc' ? 'Training acc' : 'Validation acc'"}}
   }},
  {"width": 228, "height": 134, "data": {"name": "rmsprop"},
   "transform": [{"fold": ["train_loss", "val_loss"], "as": ["series", "value"]}],
   "mark": {"type": "line"},
   "encoding": {
    "x": {"field": "epoch", "type": "quantitative", "scale": {"domain": [-3.45, 72.45], "nice": false, "zero": false}, "axis": {"values": [0,10,20,30,40,50,60,70], "title": "b)", "titlePadding": 19}},
    "y": {"field": "value", "type": "quantitative", "scale": {"domain": [-0.09, 2.26], "nice": false, "zero": false}, "axis": {"values": [0,0.5,1.0,1.5,2.0], "format": ".1f", "title": null}},
    "color": {"field": "series", "type": "nominal", "scale": {"domain": ["train_loss", "val_loss"], "range": ["#4444f0", "#f03a3a"]}, "legend": {"orient": "top-right", "title": null, "labelExpr": "datum.value == 'train_loss' ? 'Training loss' : 'Validation loss'"}}
   }}
 ]},
 {"title": {"text": "Adam", "dx": 87}, "spacing": 10, "resolve": {"scale": {"color": "independent"}}, "hconcat": [
  {"width": 216, "height": 127, "data": {"name": "adam"},
   "transform": [{"fold": ["train_acc", "val_acc"], "as": ["series", "value"]}],
   "mark": {"type": "line"},
   "encoding": {
    "x": {"field": "epoch", "type": "quantitative", "scale": {"domain": [-3.45, 72.45], "nice": false, "zero": false}, "axis": {"values": [0,10,20,30,40,50,60,70], "title": "a)", "titlePadding": 12}},
    "y": {"field": "value", "type": "quantitative", "scale": {"domain": [0.59, 1.02], "nice": false, "zero": false}, "axis": {"values": [0.6,0.65,0.7,0.75,0.8,0.85,0.9,0.95,1.0], "format": ".2f", "title": null}},
    "color": {"field": "series", "type": "nominal", "scale": {"domain": ["train_acc", "val_acc"], "range": ["#4444f0", "#f03a3a"]}, "legend": {"orient": "bottom-right", "title": null, "labelExpr": "datum.value == 'train_acc' ? 'Training acc' : 'Validation acc'"}}
   }},
  {"width": 206, "height": 121, "data": {"name": "adam"},
   "transform": [{"fold": ["train_loss", "val_loss"], "as": ["series", "value"]}],
   "mark": {"type": "line"},
   "encoding": {
    "x": {"field": "epoch", "type": "quantitative", "scale": {"domain": [-3.45, 72.45], "nice": false, "zero": false}, "axis": {"values": [0,10,20,30,40,50,60,70], "title": "b)", "titlePadding": 16}},
    "y": {"field": "value", "type": "quantitative", "scale": {"domain": [-0.04, 0.91], "nice": false, "zero": false}, "axis": {"values": [0,0.2,0.4,0.6,0.8], "format": ".1f", "title": null}},
    "color": {"field": "series", "type": "nominal", "scale": {"domain": ["train_loss", "val_loss"], "range": ["#4444f0", "#f03a3a"]}, "legend": {"orient": "top-right", "title": null, "labelExpr": "datum.value == 'train_loss' ? 'Training loss' : 'Validation loss'"}}
   }}
 ]}
]},
{"spacing": 172, "resolve": {"scale": {"color": "independent"}}, "hconcat": [
 {"title": {"text": "AdaGrad", "dx": 52}, "spacing": 14, "resolve": {"scale": {"color": "independent"}}, "hconcat": [
  {"width": 223, "height": 117, "data": {"name": "adagrad"},
   "transform": [{"fold": ["train_acc", "val_acc"], "as": ["series", "value"]}],
   "mark": {"type": "line"},
   "encoding": {
    "x": {"field": "epoch", "type": "quantitative", "scale": {"domain": [-3.45, 72.45], "nice": false, "zero": false}, "axis": {"values": [0,10,20,30,40,50,60,70], "title": "a)", "titlePadding": 14}},
    "y": {"field": "value", "type": "quantitative", "scale": {"domain": [0.296, 1.034], "nice": false, "zero": false}, "axis": {"values": [0.3,0.4,0.5,0.6,0.7,0.8,0.9,1.0], "format": ".1f", "title": null}},
    "color": {"field": "series", "type": "nominal", "scale": {"domain": ["train_acc", "val_acc"], "range": ["#4444f0", "#f03a3a"]}, "legend": {"orient": "bottom-right", "title": null, "labelExpr": "datum.value == 'train_acc' ? 'Training acc' : 'Validation acc'"}}
   }},
  {"width": 233, "height": 118, "data": {"name": "adagrad"},
   "transform": [{"fold": ["train_loss", "val_loss"], "as": ["series", "value"]}],
   "mark": {"type": "line"},
   "encoding": {
    "x": {"field": "epoch", "type": "quantitative", "scale": {"domain": [-3.45, 72.45], "nice": false, "zero": false}, "axis": {"values": [0,10,20,30,40,50,60,70], "title": "b)", "titlePadding": 13}},
    "y": {"field": "value", "type": "quantitative", "scale": {"domain": [-0.045, 1.385], "nice": false, "zero": false}, "axis": {"values": [0,0.2,0.4,0.6,0.8,1.0,1.2], "format": ".1f", "title": null}},
    "color": {"field": "series", "type": "nominal", "scale": {"domain": ["train_loss", "val_loss"], "range": ["#4444f0", "#f03a3a"]}, "legend": {"orient": "top-right", "title": null, "labelExpr": "datum.value == 'train_loss' ? 'Training loss' : 'Validation loss'"}}
   }}
 ]},
 {"title": {"text": "AdaDelta", "dx": 82}, "spacing": 9, "resolve": {"scale": {"color": "independent"}}, "hconcat": [
  {"width": 206, "height": 112, "data": {"name": "adadelta"},
   "transform": [{"fold": ["train_acc", "val_acc"], "as": ["series", "value"]}],
   "mark": {"type": "line"},
   "encoding": {
    "x": {"field": "epoch", "type": "quantitative", "scale": {"domain": [-3.45, 72.45], "nice": false, "zero": false}, "axis": {"values": [0,10,20,30,40,50,60,70], "title": "a)", "titlePadding": 14}},
    "y": {"field": "value", "type": "quantitative", "scale": {"domain": [0.30, 0.93], "nice": false, "zero": false}, "axis": {"values": [0.4,0.5,0.6,0.7,0.8,0.9], "format": ".1f", "title": null}},
    "color": {"field": "series", "type": "nominal", "scale": {"domain": ["train_acc", "val_acc"], "range": ["#4444f0", "#f03a3a"]}, "legend": {"orient": "top-left", "title": null, "labelExpr": "datum.value == 'train_acc' ? 'Training acc' : 'Validation acc'"}}
   }},
  {"width": 204, "height": 109, "data": {"name": "adadelta"},
   "transform": [{"fold": ["train_loss", "val_loss"], "as": ["series", "value"]}],
   "mark": {"type": "line"},
   "encoding": {
    "x": {"field": "epoch", "type": "quantitative", "scale": {"domain": [-3.45, 72.45], "nice": false, "zero": false}, "axis": {"values": [0,10,20,30,40,50,60,70], "title": "b)", "titlePadding": 15}},
    "y": {"field": "value", "type": "quantitative", "scale": {"domain": [0.2, 1.43], "nice": false, "zero": false}, "axis": {"values": [0.2,0.4,0.6,0.8,1.0,1.2,1.4], "format": ".1f", "title": null}},
    "color": {"field": "series", "type": "nominal", "scale": {"domain": ["train_loss", "val_loss"], "range": ["#4444f0", "#f03a3a"]}, "legend": {"orient": "top-right", "title": null, "labelExpr": "datum.value == 'train_loss' ? 'Training loss' : 'Validation loss'"}}
   }}
 ]}
]},
{"spacing": 165, "resolve": {"scale": {"color": "independent"}}, "hconcat": [
 {"title": {"text": "SGD", "dx": 44, "offset": 2}, "spacing": 16, "resolve": {"scale": {"color": "independent"}}, "hconcat": [
  {"width": 231, "height": 106, "data": {"name": "sgd"},
   "transform": [{"fold": ["train_acc", "val_acc"], "as": ["series", "value"]}],
   "mark": {"type": "line"},
   "encoding": {
    "x": {"field": "epoch", "type": "quantitative", "scale": {"domain": [-3.45, 72.45], "nice": false, "zero": false}, "axis": {"values": [0,10,20,30,40,50,60,70], "title": "a)", "titlePadding": 11}},
    "y": {"field": "value", "type": "quantitative", "scale": {"domain": [0.1715, 0.5785], "nice": false, "zero": false}, "axis": {"values": [0.2,0.25,0.3,0.35,0.4,0.45,0.5,0.55], "format": ".2f", "title": null}},
    "color": {"field": "series", "type": "nominal", "scale": {"domain": ["train_acc", "val_acc"], "range": ["#4444f0", "#f03a3a"]}, "legend": {"orient": "top-left", "title": null, "labelExpr": "datum.value == 'train_acc' ? 'Training acc' : 'Validation acc'"}}
   }},
  {"width": 227, "height": 106, "data": {"name": "sgd"},
   "transform": [{"fold": ["train_loss", "val_loss"], "as": ["series", "value"]}],
   "mark": {"type": "line"},
   "encoding": {
    "x": {"field": "epoch", "type": "quantitative", "scale": {"domain": [-3.45, 72.45], "nice": false, "zero": false}, "axis": {"values": [0,10,20,30,40,50,60,70], "title": "b)", "titlePadding": 11}},
    "y": {"field": "value", "type": "quantitative", "scale": {"domain": [1.2385, 1.4015], "nice": false, "zero": false}, "axis": {"values": [1.24,1.26,1.28,1.30,1.32,1.34,1.36,1.38,1.40], "format": ".2f", "title": null}},
    "color": {"field": "series", "type": "nominal", "scale": {"domain": ["train_loss", "val_loss"], "range": ["#4444f0", "#f03a3a"]}, "legend": {"orient": "top-right", "title": null, "labelExpr": "datum.value == 'train_loss' ? 'Training loss' : 'Validation loss'"}}
   }}
 ]},
 {"width": 10, "height": 52, "view": {"stroke": null},
  "layer": [
   {"data": {"values": [{"line": "a) Doğruluk (accuracy) grafiği"}, {"line": "b) Kayıp(loss) grafiği"}]},
    "mark": {"type": "text", "align": "left", "font": "Lato", "fontSize": 20, "color": "#111"},
    "encoding": {"y": {"field": "line", "type": "nominal", "sort": null, "axis": null, "scale": {"type": "point", "padding": 0.5}}, "text": {"field": "line"}}},
   {"data": {"values": [{"series": "Eğitim (Training)"}, {"series": "Doğrulama(Validation)"}]},
    "mark": {"type": "point", "opacity": 0},
    "encoding": {"color": {"field": "series", "type": "nominal", "sort": null, "scale": {"domain": ["Eğitim (Training)", "Doğrulama(Validation)"], "range": ["#4a4af5", "#f53535"]},
      "legend": {"orient": "none", "legendX": -327, "legendY": 0, "title": null, "symbolType": "stroke", "symbolSize": 500, "symbolStrokeWidth": 2.5, "symbolOpacity": 1, "labelFont": "Lato", "labelFontSize": 20, "labelColor": "#111", "labelOffset": 18, "rowPadding": 4, "padding": 0, "strokeColor": "transparent", "fillColor": "transparent"}}}}
  ]}
]}
]
}
